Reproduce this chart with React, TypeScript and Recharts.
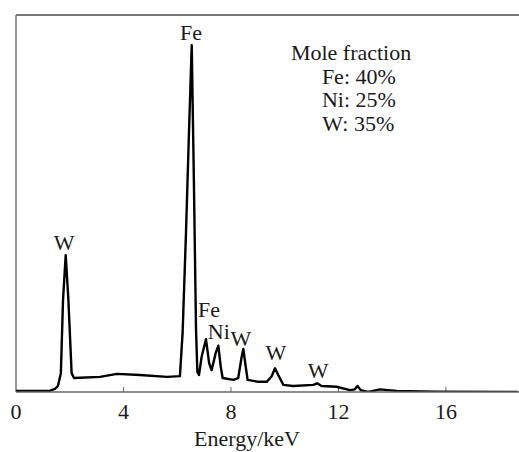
import { LineChart, Line, XAxis, YAxis, ReferenceLine, ReferenceDot } from "recharts";

// EDS spectrum (energy in keV, intensity in arbitrary units)
const energy = [
  0.0, 0.52, 1.27, 1.45, 1.56, 1.67, 1.75, 1.85, 1.95, 2.07, 2.16, 3.13, 3.76, 4.61,
  5.62, 6.1, 6.2, 6.33, 6.44, 6.54, 6.62, 6.7, 6.75, 6.81, 6.91, 7.07, 7.19, 7.28,
  7.43, 7.53, 7.62, 7.69, 8.09, 8.27, 8.4, 8.46, 8.55, 8.62, 9.02, 9.33, 9.51, 9.64,
  9.76, 9.95, 10.32, 11.06, 11.21, 11.37, 11.93, 12.43, 12.61, 12.71, 12.83, 13.05,
  13.17, 13.54, 14.17, 15.65, 18.68,
];
const intensity = [
  0.3, 0.3, 0.35, 0.8, 1.6, 5.0, 24.4, 36.3, 24.4, 5.0, 3.7, 4.0, 4.8, 4.5,
  4.0, 4.2, 15.6, 43.0, 69.5, 92.0, 56.2, 16.4, 5.3, 4.5, 9.4, 14.0, 7.6, 5.8,
  10.3, 12.3, 6.7, 3.7, 3.2, 3.7, 9.4, 11.4, 6.7, 3.2, 2.7, 2.7, 4.1, 6.3,
  4.5, 1.9, 1.6, 1.9, 2.3, 1.6, 1.4, 0.5, 0.7, 1.6, 0.5, 0.1,
  0.1, 0.7, 0.3, 0.1, 0.0,
];

const xTicks = [0, 4, 8, 12, 16];

// peak annotations
const peakNames = ["Fe", "W", "Fe", "Ni", "W", "W", "W"];
const peakLabelX = [6.51, 1.79, 7.18, 7.55, 8.37, 9.67, 11.24];
const peakLabelY = [95.5, 39.8, 22.0, 16.2, 14.3, 10.6, 5.8];

// composition note
const noteLines = ["Mole fraction", "Fe: 40%", "Ni: 25%", "W: 35%"];
const noteX = [12.47, 12.76, 12.76, 12.74];
const noteY = [90.2, 83.8, 77.7, 71.4];

const data = energy.map((e, i) => ({ e, v: intensity[i] }));

const font = "Liberation Serif, Times New Roman, serif";
const ink = "#1a1a1a";
const textStyle = { fontFamily: font };

export default function App() {
  return (
    <div style={{ position: "absolute", left: 0, top: 0, width: 519, height: 452, background: "#fff" }}>
      <LineChart width={519} height={452} data={data} margin={{ top: 15, right: 0, bottom: 30, left: 16 }}>
        <XAxis
          dataKey="e"
          type="number"
          domain={[0, 18.72]}
          ticks={xTicks}
          allowDataOverflow
          height={30}
          tickSize={0}
          tickMargin={11}
          axisLine={{ stroke: "#666", strokeWidth: 1.5 }}
          tick={{ fontFamily: font, fontSize: 22, fill: ink, style: textStyle }}
          label={{
            content: (props: any) => {
              const vb = props.viewBox || {};
              return (
                <text x={vb.x + 231} y={446} textAnchor="middle" style={textStyle} fontSize={22} fill={ink}>
                  Energy/keV
                </text>
              );
            },
          }}
        />
        <YAxis hide domain={[0, 100]} allowDataOverflow />
        <ReferenceLine y={100} stroke="#777" strokeWidth={2} />
        <ReferenceLine x={0} stroke="#777" strokeWidth={1.5} />
        {xTicks.slice(1).map((t) => (
          <ReferenceLine key={t} segment={[{ x: t, y: 0 }, { x: t, y: 1.3 }]} stroke="#666" strokeWidth={1} />
        ))}
        <Line
          type="linear"
          dataKey="v"
          stroke="#000"
          strokeWidth={2.4}
          strokeLinejoin="round"
          dot={false}
          isAnimationActive={false}
        />
        {peakNames.map((n, i) => (
          <ReferenceDot
            key={"p" + i}
            x={peakLabelX[i]}
            y={peakLabelY[i]}
            r={0}
            stroke="none"
            label={{ value: n, position: "center", fontFamily: font, fontSize: 22, fill: ink, style: textStyle }}
          />
        ))}
        {noteLines.map((n, i) => (
          <ReferenceDot
            key={"n" + i}
            x={noteX[i]}
            y={noteY[i]}
            r={0}
            stroke="none"
            label={{ value: n, position: "center", fontFamily: font, fontSize: 22, fill: ink, style: textStyle }}
          />
        ))}
      </LineChart>
    </div>
  );
}
